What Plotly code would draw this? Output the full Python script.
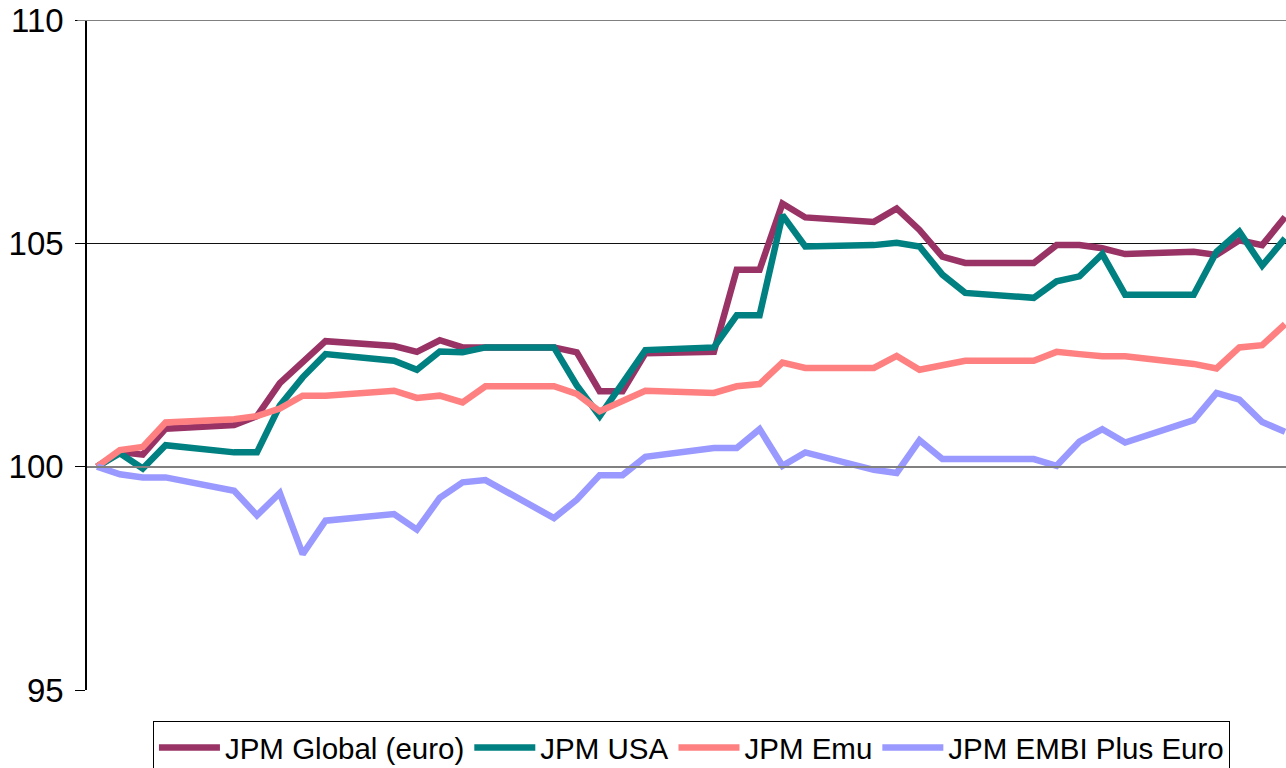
import plotly.graph_objects as go

dates = ["2001-01-02", "2001-01-03", "2001-01-04", "2001-01-05",
         "2001-01-08", "2001-01-09", "2001-01-10", "2001-01-11", "2001-01-12",
         "2001-01-15", "2001-01-16", "2001-01-17", "2001-01-18", "2001-01-19",
         "2001-01-22", "2001-01-23", "2001-01-24", "2001-01-25", "2001-01-26",
         "2001-01-29", "2001-01-30", "2001-01-31", "2001-02-01", "2001-02-02",
         "2001-02-05", "2001-02-06", "2001-02-07", "2001-02-08", "2001-02-09",
         "2001-02-12", "2001-02-13", "2001-02-14", "2001-02-15", "2001-02-16",
         "2001-02-19", "2001-02-20", "2001-02-21", "2001-02-22", "2001-02-23"]

jpm_global = [100.00, 100.33, 100.27, 100.85,
              100.93, 101.13, 101.87, 102.33, 102.81,
              102.70, 102.57, 102.83, 102.67, 102.67,
              102.67, 102.56, 101.69, 101.69, 102.54,
              102.57, 104.41, 104.41, 105.89, 105.58,
              105.48, 105.78, 105.30, 104.70, 104.56,
              104.56, 104.96, 104.96, 104.89, 104.76,
              104.81, 104.74, 105.07, 104.96, 105.59]

jpm_usa = [100.00, 100.30, 99.96, 100.48,
           100.32, 100.32, 101.37, 102.00, 102.52,
           102.37, 102.17, 102.58, 102.56, 102.67,
           102.67, 101.82, 101.13, 101.89, 102.61,
           102.67, 103.39, 103.39, 105.63, 104.93,
           104.96, 105.01, 104.93, 104.30, 103.89,
           103.78, 104.15, 104.26, 104.76, 103.85,
           103.85, 104.81, 105.26, 104.50, 105.11]

jpm_emu = [100.00, 100.37, 100.44, 100.99,
           101.06, 101.13, 101.30, 101.59, 101.59,
           101.70, 101.54, 101.59, 101.44, 101.80,
           101.80, 101.63, 101.24, 101.48, 101.70,
           101.65, 101.80, 101.85, 102.33, 102.21,
           102.21, 102.48, 102.17, 102.27, 102.37,
           102.37, 102.57, 102.52, 102.47, 102.47,
           102.30, 102.20, 102.67, 102.72, 103.19]

jpm_embi = [100.00, 99.83, 99.76, 99.76,
            99.46, 98.91, 99.41, 98.04, 98.79,
            98.94, 98.59, 99.30, 99.65, 99.70,
            98.85, 99.26, 99.81, 99.81, 100.22,
            100.42, 100.42, 100.84, 100.02, 100.32,
            99.93, 99.86, 100.59, 100.17, 100.17,
            100.17, 100.02, 100.56, 100.84, 100.54,
            101.04, 101.65, 101.50, 101.00, 100.78]

series = [
    ("JPM Global (euro)", jpm_global, "#993366"),
    ("JPM USA", jpm_usa, "#008080"),
    ("JPM Emu", jpm_emu, "#FF8080"),
    ("JPM EMBI Plus Euro", jpm_embi, "#9999FF"),
]

y_ticks = [95, 100, 105, 110]

fig = go.Figure()
for name, vals, color in series:
    fig.add_trace(go.Scatter(x=dates, y=vals, name=name, mode="lines",
                             line=dict(color=color, width=6.5)))

fig.update_layout(
    width=1286, height=768,
    margin=dict(l=87, r=0, t=20, b=78, autoexpand=False),
    paper_bgcolor="white", plot_bgcolor="white",
    font=dict(family="Liberation Sans, Arial, sans-serif", color="black"),
    showlegend=True,
    legend=dict(orientation="h", x=0.055, y=-0.046, xanchor="left", yanchor="top",
                bordercolor="black", borderwidth=1, bgcolor="white",
                font=dict(size=29.5, family="Liberation Sans, Arial, sans-serif"),
                itemwidth=61, tracegroupgap=0),
    xaxis=dict(type="date", range=["2001-01-01 13:26", "2001-02-23 01:00"],
               showticklabels=False, showgrid=False, ticks="",
               showline=True, linecolor="#808080", linewidth=1.5,
               anchor="free", position=1/3, zeroline=False),
    yaxis=dict(range=[95, 110], tickvals=y_ticks, ticktext=[str(v) for v in y_ticks],
               showgrid=True, gridcolor="#111111", gridwidth=1,
               showline=True, linecolor="black", linewidth=1.5,
               ticks="outside", ticklen=10, tickcolor="black",
               ticklabelstandoff=5,
               tickfont=dict(size=33, family="Liberation Sans, Arial, sans-serif"),
               zeroline=False),
    shapes=[dict(type="line", xref="paper", yref="y", x0=-0.008, x1=1, y0=110, y1=110,
                 line=dict(color="#808080", width=2), layer="above")],
)

fig.write_html("out.html", config={"displayModeBar": False},
               post_script="document.body.style.margin='0px';document.body.style.overflow='hidden';")
